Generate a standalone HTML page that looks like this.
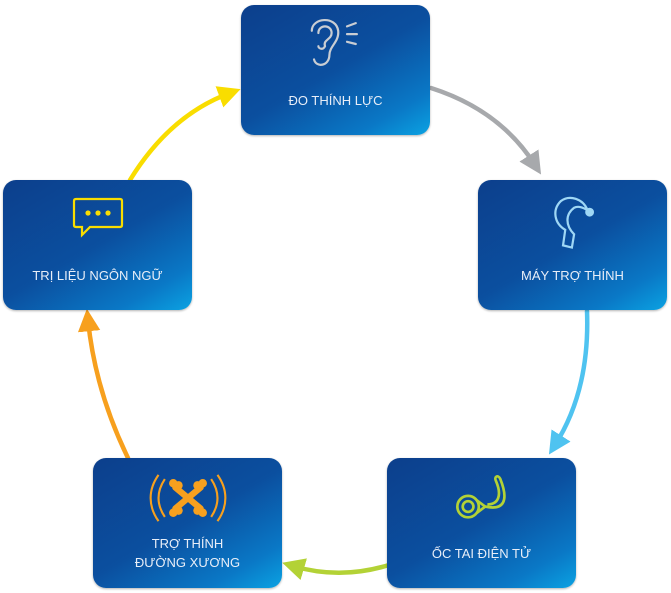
<!DOCTYPE html>
<html><head><meta charset="utf-8"><style>
body{margin:0;width:671px;height:593px;background:#fff;position:relative;overflow:hidden;font-family:"Liberation Sans","Noto Sans CJK SC",sans-serif}
.b{position:absolute;width:189px;height:130px;border-radius:13px;background:linear-gradient(150deg,#0c3f8c 0%,#0b4f9f 50%,#0a78c6 82%,#0ba2e2 100%);box-shadow:0 1px 2px rgba(0,0,0,.3);color:#e8eef8;font-size:13px;text-align:center;line-height:19px}
.b span{position:absolute;left:0;right:0}
svg.i{position:absolute;left:50%;transform:translateX(-50%)}
</style></head><body>
<svg width="671" height="593" style="position:absolute;left:0;top:0" fill="none" stroke-width="4.5" stroke-linecap="round">
<defs>
<marker id="m1" markerWidth="5" markerHeight="5" refX="2.5" refY="2.5" orient="auto" markerUnits="strokeWidth"><path d="M0,0L5,2.5L0,5z" fill="#a7a9ac"/></marker>
<marker id="m2" markerWidth="5" markerHeight="5" refX="2.5" refY="2.5" orient="auto" markerUnits="strokeWidth"><path d="M0,0L5,2.5L0,5z" fill="#4fc3f0"/></marker>
<marker id="m3" markerWidth="5" markerHeight="5" refX="2.5" refY="2.5" orient="auto" markerUnits="strokeWidth"><path d="M0,0L5,2.5L0,5z" fill="#b3d236"/></marker>
<marker id="m4" markerWidth="5" markerHeight="5" refX="2.5" refY="2.5" orient="auto" markerUnits="strokeWidth"><path d="M0,0L5,2.5L0,5z" fill="#f7a01e"/></marker>
<marker id="m5" markerWidth="5" markerHeight="5" refX="2.5" refY="2.5" orient="auto" markerUnits="strokeWidth"><path d="M0,0L5,2.5L0,5z" fill="#f9dd00"/></marker>
</defs>
<path d="M431,88 Q500,110 535,165" stroke="#a7a9ac" marker-end="url(#m1)"/>
<path d="M587,311 Q590,390 555,445" stroke="#4fc3f0" marker-end="url(#m2)"/>
<path d="M389,565 Q340,580 293,566" stroke="#b3d236" marker-end="url(#m3)"/>
<path d="M128,458 Q95,390 88,320" stroke="#f7a01e" marker-end="url(#m4)"/>
<path d="M130,180 Q170,115 230,93" stroke="#f9dd00" marker-end="url(#m5)"/>
</svg>

<div class="b" style="left:241px;top:5px">
<svg class="i" style="top:10px" width="66" height="58" viewBox="0 0 60 52" stroke="#c9cdd3" stroke-width="2" fill="none" stroke-linecap="round"><path d="M8,14 C8,2 30,0 32,14 C33,24 24,28 24,36 C24,46 12,48 10,40"/><path d="M14,16 C14,8 26,8 26,16 C26,22 18,22 20,28 C18,32 14,30 14,28"/><path d="M40,10 L48,7 M40,17 L49,17 M40,24 L48,26"/></svg>
<span style="top:86px">ĐO THÍNH LỰC</span></div>

<div class="b" style="left:478px;top:180px">
<svg class="i" style="top:10px" width="56" height="62" viewBox="0 0 50 56" stroke="#9fd7f5" stroke-width="2" fill="none"><path d="M38,18 C34,8 22,4 14,10 C6,18 8,30 18,36 L16,50 L24,52 L26,40 C18,32 18,22 26,16 C30,14 34,16 38,18"/><circle cx="40" cy="20" r="3" fill="#9fd7f5"/></svg>
<span style="top:86px">MÁY TRỢ THÍNH</span></div>

<div class="b" style="left:387px;top:458px">
<svg class="i" style="top:10px" width="76" height="60" viewBox="0 0 70 56" stroke="#b3d236" stroke-width="2.5" fill="none"><circle cx="22" cy="36" r="10"/><circle cx="22" cy="36" r="5"/><path d="M30,30 L38,36 L30,42"/><path d="M38,36 C56,40 60,30 52,10 C50,6 46,8 48,12 C54,26 50,34 40,34"/></svg>
<span style="top:86px">ỐC TAI ĐIỆN TỬ</span></div>

<div class="b" style="left:93px;top:458px">
<svg class="i" style="top:12px" width="80" height="56" viewBox="0 0 76 52" stroke="#f7a01e" stroke-width="2" fill="none"><path d="M10,4 C0,18 0,34 10,48 M16,8 C8,20 8,32 16,44 M66,4 C76,18 76,34 66,48 M60,8 C68,20 68,32 60,44"/><g stroke-width="6" stroke-linecap="round"><path d="M26,16 L50,36 M50,16 L26,36"/></g><g fill="#f7a01e" stroke="none"><circle cx="24" cy="12" r="4"/><circle cx="29" cy="14" r="4"/><circle cx="52" cy="12" r="4"/><circle cx="47" cy="14" r="4"/><circle cx="24" cy="40" r="4"/><circle cx="29" cy="38" r="4"/><circle cx="52" cy="40" r="4"/><circle cx="47" cy="38" r="4"/></g></svg>
<span style="top:76px">TRỢ THÍNH<br>ĐƯỜNG XƯƠNG</span></div>

<div class="b" style="left:3px;top:180px">
<svg class="i" style="top:15px" width="56" height="48" viewBox="0 0 56 48" stroke="#f9dd00" stroke-width="2.2" fill="none"><path d="M6,4 H50 Q52,4 52,6 V30 Q52,32 50,32 H20 L12,40 V32 H6 Q4,32 4,30 V6 Q4,4 6,4z"/><g fill="#f9dd00" stroke="none"><circle cx="18" cy="18" r="2.6"/><circle cx="28" cy="18" r="2.6"/><circle cx="38" cy="18" r="2.6"/></g></svg>
<span style="top:86px">TRỊ LIỆU NGÔN NGỮ</span></div>
</body></html>
